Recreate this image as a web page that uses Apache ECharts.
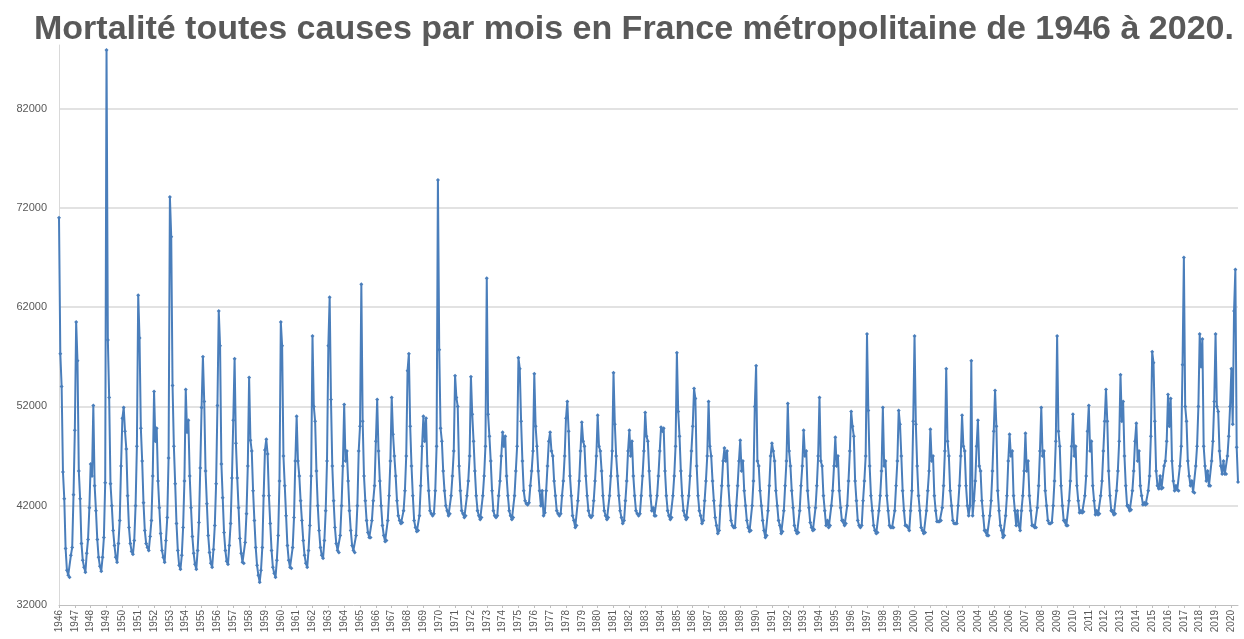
<!DOCTYPE html>
<html>
<head>
<meta charset="utf-8">
<script src="https://cdn.jsdelivr.net/npm/echarts@6/dist/echarts.min.js"></script>
<style>
html,body{margin:0;padding:0;background:#fff;}
#chart{width:1244px;height:639px;}
</style>
</head>
<body>
<div id="chart"></div>
<script>
const titleText = "Mortalité toutes causes par mois en France métropolitaine de 1946 à 2020.";
const years = [1946,1947,1948,1949,1950,1951,1952,1953,1954,1955,1956,1957,1958,1959,1960,1961,1962,1963,1964,1965,1966,1967,1968,1969,1970,1971,1972,1973,1974,1975,1976,1977,1978,1979,1980,1981,1982,1983,1984,1985,1986,1987,1988,1989,1990,1991,1992,1993,1994,1995,1996,1997,1998,1999,2000,2001,2002,2003,2004,2005,2006,2007,2008,2009,2010,2011,2012,2013,2014,2015,2016,2017,2018,2019,2020];
const months = ["01","02","03","04","05","06","07","08","09","10","11","12"];
const yTicks = [32000,42000,52000,62000,72000,82000];
// monthly deaths, January 1946 to June 2020 (one line per year)
const deaths = [
71000,57300,54000,45400,42700,37700,35500,35000,34800,37000,37800,43100,
49600,60500,56600,45500,42700,38200,36500,35800,35300,37200,38600,41800,
46200,45000,52100,44000,41500,38600,36800,35900,35400,36800,38800,44300,
87900,58700,52900,44200,42000,39500,38000,36800,36300,38200,40500,46000,
50800,51900,49500,47700,43000,39800,38200,37400,37100,38500,42000,48000,
63200,58900,49800,46500,42300,39500,38200,37800,37500,38900,40500,45000,
53500,48500,49800,44500,41800,39200,37500,36800,36300,38500,40800,46800,
73100,69100,54100,48000,44200,40200,37500,36000,35600,37000,39800,44500,
53700,49400,50600,45000,41800,38900,37200,36100,35600,37500,40300,45800,
51900,57000,52500,45500,42200,39000,37300,36200,35800,37600,40000,44200,
52100,61600,58100,46200,42800,39300,37500,36400,36100,38000,40200,44800,
50600,56800,48300,44800,41800,38700,37200,36300,36200,38300,41200,46000,
54900,48600,47500,43500,40500,37800,36000,35000,34300,35500,37800,43000,
47600,48700,47200,43000,40200,37500,35800,35200,34800,36500,39000,44500,
60500,58100,47000,44000,41000,38000,36500,35800,35700,37800,40800,46500,
51000,46500,45000,42500,40500,38500,37000,36200,35800,37500,40000,45000,
59100,52000,50500,45500,42000,39500,37800,37000,36700,38500,41500,46500,
58100,63000,52700,46000,42500,39800,38200,37500,37300,39000,42000,46000,
52200,46500,47500,44500,41500,39500,38000,37500,37300,39000,42000,47500,
50000,64300,50500,45000,42500,40500,39300,38800,38800,40500,42500,44000,
48500,52700,47500,44500,42000,40000,39000,38400,38500,40500,43000,46500,
52900,49200,47000,45000,42500,41000,40500,40200,40300,41500,43500,47000,
55600,57300,50000,46000,43000,40500,39800,39400,39500,41000,44000,48000,
51000,48500,50800,46000,43500,41500,41200,41000,41200,43500,48000,74800,
57700,49800,48500,45500,43500,42000,41500,41000,41200,43000,45000,47500,
55100,52900,52000,46000,43500,41500,41200,40800,41000,43000,44500,47000,
55000,51200,48500,45500,43000,41500,41000,40600,40800,43000,45000,48000,
64900,51200,49000,46500,43500,41500,41000,40800,41000,43000,44500,47000,
49400,48000,49000,45000,43000,41500,41000,40600,40800,43000,45500,48000,
56900,55800,50500,46500,43500,42500,42200,42100,42300,44000,45500,47500,
55300,50000,48000,45500,43500,42000,43500,41000,41300,43500,46000,48500,
49400,47500,47000,44500,43000,41500,41200,41000,41200,43000,44500,47000,
50800,52500,49500,45000,43000,41000,40500,39800,40000,42500,44500,47500,
50400,48500,48000,45000,43000,41500,41000,40800,41000,42500,44500,47000,
51100,48000,47500,45500,43000,41500,41000,40600,40800,43000,45000,47500,
55400,50200,47000,45000,43000,41500,40800,40200,40500,42500,44500,47500,
49600,47000,48500,45000,43000,41500,41200,41000,41200,43000,45000,47500,
51400,49000,48500,45500,43000,41500,41800,41000,41000,43000,45000,47500,
49900,49500,49800,45500,43000,41500,41000,40600,40800,43000,45000,48000,
57400,51500,49000,45500,43000,41500,41000,40600,40800,43000,45000,47500,
50000,53800,52800,46000,43000,41500,41000,40200,40500,42500,44500,47000,
52500,48000,47000,44500,42500,40800,40000,39200,39500,42000,44000,46500,
47800,46500,47500,44000,42000,40500,40000,39800,39800,42000,44000,46500,
48600,45500,46500,43500,42000,40500,39800,39400,39500,42000,44500,52000,
56100,46500,46000,43500,42000,40500,39500,38800,39000,41500,44000,47000,
48300,47500,46500,43500,42000,40500,40000,39200,39400,41500,44000,46500,
52300,47500,46000,43500,41800,40000,39500,39200,39300,41500,44000,46000,
49600,47000,47500,43500,41800,40300,39800,39500,39600,41800,44000,47000,
52900,46500,46000,43000,41500,40000,40500,39800,40000,42000,43500,46000,
48900,46000,47000,43500,41800,40500,40500,40000,40200,42000,44500,47500,
51500,50000,49000,44500,42500,40500,40000,39800,40000,42500,44500,47000,
59300,51600,46000,43000,41500,40000,39500,39200,39300,41500,43000,45500,
51900,46000,46500,43000,41500,40000,39800,39800,39800,41500,44000,46500,
51600,50200,47000,43500,41500,40000,40000,39800,39500,41500,43500,50500,
59100,50200,46000,43000,41500,39800,39500,39200,39300,41500,43500,45500,
49700,46500,47000,43000,41500,40400,40400,40400,40500,41800,44000,47500,
55800,48500,47000,43500,42000,40500,40200,40200,40200,42000,44000,47000,
51100,48000,47500,44000,42000,41000,42000,56600,41000,42500,44500,48000,
50600,46000,45500,42500,41000,39500,39500,39000,39000,41000,42500,45500,
49500,53600,50000,43500,41500,40000,39500,38800,39000,41000,43000,46500,
49200,47000,47500,43000,41500,40000,41500,40000,39500,41500,43000,45500,
49300,45500,46500,43000,41500,40000,40000,39800,39800,41800,44000,47500,
51900,47000,47500,43500,42000,40500,40200,40200,40300,42000,44500,48500,
59100,49500,48000,44000,42000,40500,40500,40000,40000,42500,44500,48000,
51200,47000,48000,44000,42500,41300,41500,41300,41400,43000,45000,49500,
52100,47500,48500,44000,42500,41100,41500,41100,41200,43000,44500,47500,
50500,53700,50500,45500,43000,41500,41500,41100,41200,43500,45500,48500,
55200,50500,52500,47000,44000,42000,42000,41500,41600,43500,45500,48500,
50300,46500,47500,44000,43000,42100,42300,42100,42200,43500,45000,49000,
57500,56400,50500,45500,44000,43700,45000,43700,43800,46000,46500,48500,
53200,50000,52800,46500,44500,43500,44000,43600,43500,46000,48000,56200,
67000,52000,50500,46500,45000,44000,44500,43400,43300,46000,48000,52000,
59300,56000,58800,48000,46000,44500,45500,44000,44000,46500,48500,52500,
59300,52000,51500,47500,46000,45200,46500,45200,45200,47000,49000,52000,
55800,50200,61600,65800,47900,44400
];

const categories = [];
for (const y of years) for (const m of months) {
  if (categories.length < deaths.length) categories.push(y + "-" + m);
}
const isYearStart = (i) => i % 12 === 0;

const chart = echarts.init(document.getElementById('chart'), null, {renderer: 'canvas'});
chart.setOption({
  animation: false,
  backgroundColor: '#ffffff',
  title: {
    text: titleText,
    left: 29,
    top: 8,
    textStyle: {fontFamily: 'Liberation Sans, Arial, sans-serif', fontSize: 34, fontWeight: 'bold', color: '#595959'}
  },
  grid: {left: 59, right: 6, top: 45, bottom: 34, containLabel: false},
  xAxis: {
    type: 'category',
    data: categories,
    boundaryGap: false,
    axisLine: {show: true, lineStyle: {color: '#bfbfbf', width: 1}},
    axisTick: {show: true, interval: isYearStart, length: 3, lineStyle: {color: '#bfbfbf'}},
    axisLabel: {
      interval: isYearStart,
      rotate: 90,
      margin: 5,
      fontSize: 10,
      fontFamily: 'Liberation Sans, Arial, sans-serif',
      color: '#595959',
      formatter: (v) => v.slice(0, 4)
    },
    splitLine: {show: false}
  },
  yAxis: {
    type: 'value',
    min: yTicks[0],
    max: 88400,
    interval: 10000,
    axisLine: {show: true, lineStyle: {color: '#d9d9d9', width: 1}},
    axisTick: {show: false},
    axisLabel: {
      showMaxLabel: false,
      margin: 12,
      fontSize: 11,
      fontFamily: 'Liberation Sans, Arial, sans-serif',
      color: '#595959',
      formatter: (v) => String(v)
    },
    splitLine: {show: true, showMaxLine: false, showMinLine: false, lineStyle: {color: '#d9d9d9', width: 1.5}}
  },
  series: [{
    type: 'line',
    data: deaths,
    showSymbol: true,
    showAllSymbol: true,
    symbol: 'diamond',
    symbolSize: 4,
    itemStyle: {color: '#4a7ebb'},
    lineStyle: {color: '#4a7ebb', width: 2},
    emphasis: {disabled: true}
  }]
});
</script>
</body>
</html>
